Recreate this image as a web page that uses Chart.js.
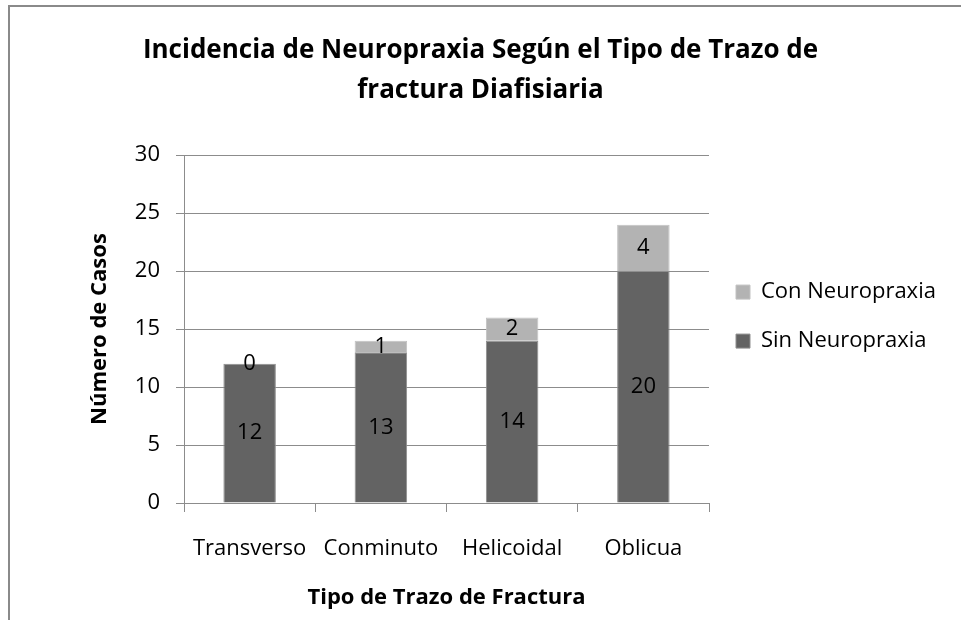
<!DOCTYPE html>
<html>
<head>
<meta charset="utf-8">
<script src="https://cdn.jsdelivr.net/npm/chart.js@4.4.0/dist/chart.umd.min.js"></script>
<style>
  html, body { margin: 0; padding: 0; background: #fff; }
  #wrap { width: 961px; height: 620px; position: relative; }
</style>
</head>
<body>
<div id="wrap"><canvas id="c" width="961" height="620"></canvas></div>
<script>
const categories = ['Transverso', 'Conminuto', 'Helicoidal', 'Oblicua'];
const sinNeuropraxia = [12, 13, 14, 20];
const conNeuropraxia = [0, 1, 2, 4];
const seriesNames = ['Sin Neuropraxia', 'Con Neuropraxia'];
const titleLines = ['Incidencia de Neuropraxia Según el Tipo de Trazo de', 'fractura Diafisiaria'];
const xTitle = 'Tipo de Trazo de Fractura';
const yTitle = 'Número de Casos';
const yMin = 0, yMax = 30, yStep = 5;

const FONT = "'Open Sans', 'Noto Sans', sans-serif";
const GRID = '#8c8c8c';
const TXT = 22;
Chart.defaults.color = '#000';
Chart.defaults.font.family = FONT;

const frame = {
  id: 'frame',
  beforeDraw(chart) {
    const ctx = chart.ctx;
    ctx.save();
    ctx.fillStyle = '#fff';
    ctx.fillRect(0, 0, chart.width, chart.height);
    ctx.fillStyle = '#8a8a8a';
    ctx.fillRect(8, 5, chart.width - 8, 2);
    ctx.fillRect(8, 5, 2, chart.height - 5);
    ctx.restore();
  }
};

// fix the legend box width so the plot area ends where the reference's does
const legendWidth = {
  id: 'legendWidth',
  beforeLayout(chart) {
    const lg = chart.legend;
    if (lg && !lg._fixedFit) {
      const orig = lg.fit;
      lg.fit = function () { orig.call(this); this.width = 252; };
      lg._fixedFit = true;
    }
  }
};

const valueLabels = {
  id: 'valueLabels',
  afterDatasetsDraw(chart) {
    const ctx = chart.ctx;
    ctx.save();
    ctx.font = TXT + 'px ' + FONT;
    ctx.fillStyle = '#000';
    ctx.textAlign = 'center';
    ctx.textBaseline = 'middle';
    chart.data.datasets.forEach((ds, i) => {
      const meta = chart.getDatasetMeta(i);
      meta.data.forEach((bar, j) => {
        const y = (bar.y + bar.base) / 2;
        ctx.fillText(String(ds.data[j]), bar.x, y);
      });
    });
    ctx.restore();
  }
};

function build() {
  new Chart(document.getElementById('c'), {
    type: 'bar',
    data: {
      labels: categories,
      datasets: [
        { label: seriesNames[0], data: sinNeuropraxia, backgroundColor: '#636363', borderColor: '#8f8f8f', borderWidth: 1, borderSkipped: 'start' },
        { label: seriesNames[1], data: conNeuropraxia, backgroundColor: '#b3b3b3', borderColor: '#c2c2c2', borderWidth: 1, borderSkipped: 'start' }
      ]
    },
    options: {
      responsive: false,
      animation: false,
      devicePixelRatio: 1,
      layout: { padding: { left: 0, right: 0, top: 0, bottom: 0 } },
      datasets: { bar: { barPercentage: 0.4, categoryPercentage: 1 } },
      plugins: {
        title: {
          display: true,
          text: titleLines,
          color: '#000',
          font: { family: FONT, size: 26, weight: 'bold', lineHeight: 1.54 },
          padding: { top: 31, bottom: 44 }
        },
        legend: {
          position: 'right',
          fullSize: false,
          align: 'start',
          reverse: true,
          title: { display: true, text: ' ', font: { size: 10, lineHeight: 1 }, padding: { top: 89, bottom: 0 } },
          labels: { boxWidth: 14, boxHeight: 14, padding: 27, color: '#000', font: { family: FONT, size: TXT } }
        },
        tooltip: { enabled: false }
      },
      scales: {
        x: {
          stacked: true,
          grid: { display: true, drawOnChartArea: false, drawTicks: true, tickLength: 9, color: GRID, offset: true },
          border: { display: true, color: GRID, width: 1 },
          ticks: { padding: 24, font: { family: FONT, size: TXT }, color: '#000', maxRotation: 0 },
          title: { display: true, text: xTitle, color: '#000', font: { family: FONT, size: 22, weight: 'bold' }, padding: { top: 0, bottom: 9 } },
          afterFit(scale) { scale.height = 117; }
        },
        y: {
          stacked: true,
          min: yMin, max: yMax,
          grid: { color: GRID, tickLength: 8, lineWidth: 1 },
          border: { display: true, color: GRID, width: 1 },
          ticks: { stepSize: yStep, padding: 16, font: { family: FONT, size: TXT }, color: '#000' },
          title: { display: true, text: yTitle, color: '#000', font: { family: FONT, size: 22, weight: 'bold' }, padding: { top: 87, bottom: 0 } },
          afterFit(scale) { scale.width = 184; }
        }
      }
    },
    plugins: [frame, legendWidth, valueLabels]
  });
}

if (document.fonts && document.fonts.load) {
  Promise.all([
    document.fonts.load("22px 'Open Sans'"),
    document.fonts.load("bold 22px 'Open Sans'"),
    document.fonts.load("bold 26px 'Open Sans'")
  ]).then(build, build);
} else {
  build();
}
</script>
</body>
</html>
